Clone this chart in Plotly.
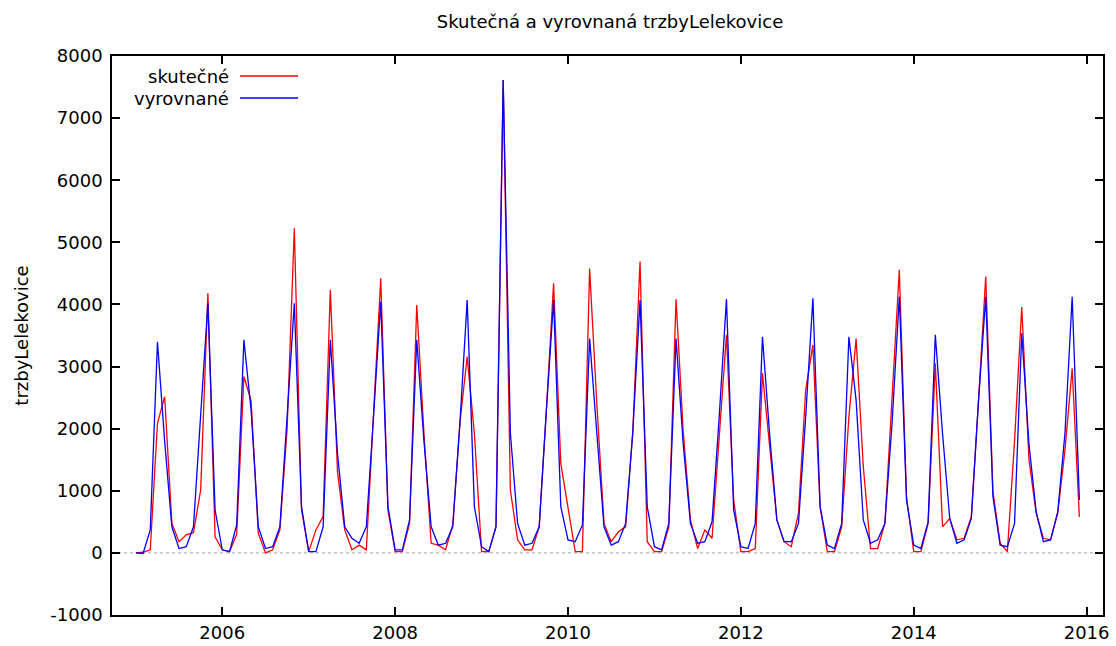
import plotly.graph_objects as go

start_year = 2005
skutecne = [
    0, 10, 50, 2085, 2515, 475, 180, 290, 325, 1010, 4180, 260,
    50, 20, 300, 2840, 2450, 315, 0, 50, 370, 2000, 5225, 690,
    20, 370, 585, 4235, 1300, 370, 50, 125, 50, 2200, 4420, 690,
    20, 20, 475, 3990, 1925, 155, 125, 50, 450, 2100, 3160, 1925,
    20, 20, 420, 7615, 1010, 210, 50, 50, 420, 2300, 4340, 1440,
    745, 20, 20, 4580, 2400, 475, 180, 340, 420, 1950, 4690, 180,
    20, 20, 420, 4085, 1950, 530, 70, 370, 235, 1900, 3510, 850,
    20, 20, 70, 2890, 1650, 530, 180, 100, 640, 2620, 3345, 745,
    20, 20, 420, 2190, 3450, 1390, 70, 70, 475, 2500, 4555, 905,
    20, 20, 475, 3050, 420, 555, 210, 235, 585, 2460, 4450, 985,
    155, 20, 1800, 3960, 1500, 640, 235, 210, 640, 1655, 2970, 580,
]
vyrovnane = [
    0, -10, 370, 3400, 1800, 420, 70, 100, 420, 2190, 4020, 690,
    50, 20, 450, 3430, 2300, 420, 70, 100, 420, 2190, 4020, 745,
    20, 20, 420, 3430, 1600, 420, 235, 155, 420, 2200, 4045, 745,
    50, 50, 530, 3430, 1800, 420, 125, 155, 420, 2100, 4070, 745,
    100, 20, 420, 7615, 1925, 475, 125, 155, 420, 2300, 4070, 745,
    210, 180, 450, 3450, 1950, 420, 125, 180, 475, 1950, 4070, 745,
    100, 50, 475, 3450, 1750, 475, 155, 180, 500, 2200, 4085, 690,
    100, 70, 475, 3480, 1900, 530, 180, 180, 475, 2190, 4100, 745,
    125, 70, 475, 3480, 2460, 530, 155, 210, 475, 2100, 4125, 850,
    125, 70, 500, 3510, 1925, 555, 155, 210, 555, 2460, 4125, 905,
    125, 100, 475, 3535, 1750, 665, 180, 210, 665, 1925, 4125, 850,
]
x_vals = [start_year + i / 12 for i in range(len(skutecne))]

x_ticks = [2006, 2008, 2010, 2012, 2014, 2016]
y_ticks = [-1000, 0, 1000, 2000, 3000, 4000, 5000, 6000, 7000, 8000]
names = ["skutečné", "vyrovnané"]
colors = ["#ff0000", "#0000ff"]

FONT = "DejaVu Sans, Verdana, sans-serif"
FS = 18

fig = go.Figure()
fig.add_trace(go.Scatter(x=x_vals, y=skutecne, mode="lines", name=names[0],
                         line=dict(color=colors[0], width=1.3), showlegend=False))
fig.add_trace(go.Scatter(x=x_vals, y=vyrovnane, mode="lines", name=names[1],
                         line=dict(color=colors[1], width=1.3), showlegend=False))

# dotted zero line
fig.add_shape(type="line", xref="paper", yref="y", x0=0, x1=1, y0=0, y1=0,
              line=dict(color="#a0a0a0", width=1, dash="dot"), layer="below")

# gnuplot-style legend (text then sample)
W, H = 1116, 646
L, R, T, B = 112, 13, 56, 31
pw, ph = W - L - R, H - T - B
def px(xp):
    return (xp - L) / pw
def py(yp):
    return 1 - (yp - T) / ph
for i, (nm, col) in enumerate(zip(names, colors)):
    yy = 76 + i * 22
    fig.add_annotation(xref="paper", yref="paper", x=px(231), y=py(yy), text=nm,
                       showarrow=False, xanchor="right", yanchor="middle",
                       font=dict(family=FONT, size=FS, color="#000"))
    fig.add_shape(type="line", xref="paper", yref="paper", x0=px(240), x1=px(298),
                  y0=py(yy), y1=py(yy), line=dict(color=col, width=1.3))

fig.update_layout(
    width=W, height=H,
    margin=dict(l=L, r=R, t=T, b=B, autoexpand=False),
    paper_bgcolor="white", plot_bgcolor="white",
    font=dict(family=FONT, size=FS, color="#000"),
    title=dict(text="Skutečná a vyrovnaná trzbyLelekovice", x=px(610), xref="paper",
               y=1 - 22 / H, yanchor="middle", xanchor="center",
               font=dict(family=FONT, size=FS, color="#000")),
)
fig.update_xaxes(range=[2004.724, 2016.19], tickvals=x_ticks,
                 ticktext=[str(t) for t in x_ticks], automargin=False,
                 showgrid=False, zeroline=False, showline=True, linecolor="#000",
                 linewidth=1.5, mirror="allticks", ticks="inside", ticklen=8,
                 tickcolor="#000", tickwidth=1.5, tickfont=dict(size=FS),
                 ticklabelstandoff=1)
fig.update_yaxes(range=[-1000, 8000], tickvals=y_ticks,
                 ticktext=[str(t) for t in y_ticks], automargin=False,
                 showgrid=False, zeroline=False, showline=True, linecolor="#000",
                 linewidth=1.5, mirror="allticks", ticks="inside", ticklen=8,
                 tickcolor="#000", tickwidth=1.5, tickfont=dict(size=FS),
                 ticklabelstandoff=4,
                 title=dict(text="trzbyLelekovice", standoff=17, font=dict(size=FS)))

fig.write_html("out.html")
